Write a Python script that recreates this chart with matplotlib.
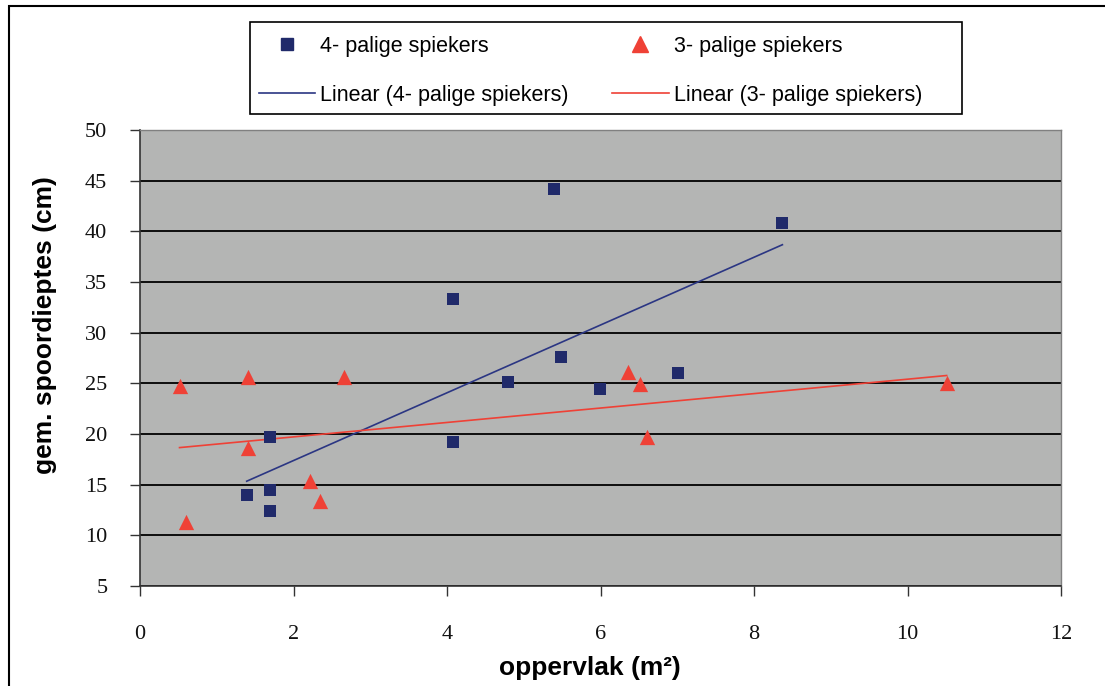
import numpy as np
import matplotlib
matplotlib.use("Agg")
import matplotlib.pyplot as plt
from matplotlib.lines import Line2D
from matplotlib.patches import Rectangle

# Data
x4 = [1.39, 1.69, 1.69, 1.69, 4.08, 4.08, 4.80, 5.40, 5.49, 5.99, 7.01, 8.37]
y4 = [14.0, 19.7, 14.45, 12.36, 33.3, 19.2, 25.1, 44.2, 27.6, 24.4, 26.0, 40.8]
x3 = [0.515, 0.60, 1.41, 1.41, 2.21, 2.34, 2.66, 6.36, 6.52, 6.60, 10.51]
y3 = [24.76, 11.34, 25.65, 18.6, 15.4, 13.35, 25.65, 26.1, 24.93, 19.7, 25.0]

label4 = "4- palige spiekers"
label3 = "3- palige spiekers"
lin4 = "Linear (4- palige spiekers)"
lin3 = "Linear (3- palige spiekers)"
xticks = [0, 2, 4, 6, 8, 10, 12]
yticks = [5, 10, 15, 20, 25, 30, 35, 40, 45, 50]

navy = "#202A6A"
navy_line = "#2B3683"
red = "#EF4136"
gray = "#B4B5B4"

W, H = 1105, 686
fig = plt.figure(figsize=(W / 100, H / 100), dpi=100)
fig.patch.set_facecolor("white")


def fx(px):
    return px / W


def fy(py):
    return 1 - py / H


# outer frame (left/top visible)
fig.add_artist(Rectangle((fx(9), -0.05), 1.2, fy(6) + 0.05, transform=fig.transFigure,
                         fill=False, edgecolor="black", linewidth=1.5))

l, r, t, b = 140, 1061, 130, 586
ax = fig.add_axes([fx(l), fy(b), (r - l) / W, (b - t) / H])
ax.set_facecolor(gray)
ax.set_xlim(0, 12)
ax.set_ylim(5, 50)
ax.set_xticks(xticks)
ax.set_yticks(yticks)
ax.yaxis.grid(True, color="black", linewidth=1.3)
ax.set_axisbelow(True)
for s in ["top", "right"]:
    ax.spines[s].set_color("#808080")
    ax.spines[s].set_linewidth(1.0)
for s in ["left", "bottom"]:
    ax.spines[s].set_color("#333333")
    ax.spines[s].set_linewidth(1.2)

ax.tick_params(axis="both", direction="out", length=7, width=1.0, color="#333333")
ax.tick_params(axis="x", pad=21)
ax.tick_params(axis="y", pad=16.5)
for lab in ax.get_xticklabels() + ax.get_yticklabels():
    lab.set_fontfamily("Liberation Serif")
    lab.set_fontsize(16)
    lab.set_color("#111111")

# trendlines via least squares
for xs, ys, c in [(x4, y4, navy_line), (x3, y3, red)]:
    xs_a = np.array(xs)
    k, m = np.polyfit(xs_a, np.array(ys), 1)
    xx = np.array([xs_a.min(), xs_a.max()])
    ax.plot(xx, k * xx + m, color=c, linewidth=1.2, zorder=3)

ax.scatter(x4, y4, marker="s", s=85, color=navy, linewidths=0, zorder=4)
ax.scatter(x3, y3, marker="^", s=121, color=red, linewidths=0, zorder=4)

ax.set_xlabel("oppervlak (m²)", fontfamily="Liberation Sans", fontweight="bold", fontsize=19)
ax.xaxis.set_label_coords((590 - l) / (r - l), -(656 - b) / (b - t))
ax.set_ylabel("gem. spoordieptes (cm)", fontfamily="Liberation Sans", fontweight="bold", fontsize=19)
ax.yaxis.set_label_coords((57 - l) / (r - l), (b - 325.5) / (b - t))

# legend
fig.add_artist(Rectangle((fx(250), fy(114)), (962 - 250) / W, (114 - 22) / H,
                         transform=fig.transFigure, fill=True, facecolor="white",
                         edgecolor="black", linewidth=1.2, zorder=1))
handles = [
    Line2D([], [], marker="s", linestyle="none", color=navy, markersize=9.2),
    Line2D([], [], color=navy_line, linewidth=1.2),
    Line2D([], [], marker="^", linestyle="none", color=red, markersize=11),
    Line2D([], [], color=red, linewidth=1.2),
]
labels = [label4, lin4, label3, lin3]
leg = fig.legend(handles, labels, ncol=2, loc="upper left",
                 bbox_to_anchor=(fx(258.5), fy(36)),
                 prop={"family": "Liberation Sans", "size": 15.5},
                 frameon=False,
                 handlelength=2.63, handletextpad=0.25, columnspacing=2.0,
                 labelspacing=1.3, borderpad=0, borderaxespad=0)
leg.set_zorder(2)

fig.savefig("out.png", dpi=100, facecolor="white")
